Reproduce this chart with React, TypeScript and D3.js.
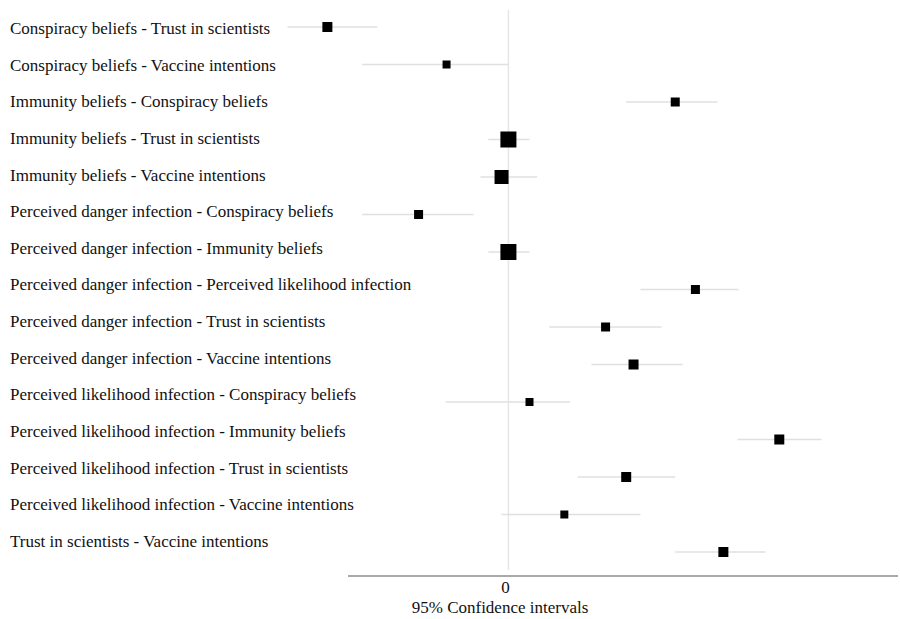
import React from "react";
import * as d3 from "d3";

const labels = [
  "Conspiracy beliefs - Trust in scientists",
  "Conspiracy beliefs - Vaccine intentions",
  "Immunity beliefs - Conspiracy beliefs",
  "Immunity beliefs - Trust in scientists",
  "Immunity beliefs - Vaccine intentions",
  "Perceived danger infection - Conspiracy beliefs",
  "Perceived danger infection - Immunity beliefs",
  "Perceived danger infection - Perceived likelihood infection",
  "Perceived danger infection - Trust in scientists",
  "Perceived danger infection - Vaccine intentions",
  "Perceived likelihood infection - Conspiracy beliefs",
  "Perceived likelihood infection - Immunity beliefs",
  "Perceived likelihood infection - Trust in scientists",
  "Perceived likelihood infection - Vaccine intentions",
  "Trust in scientists - Vaccine intentions",
];
const estimates = [-0.395, -0.135, 0.364, 0.0, -0.015, -0.196, 0.0, 0.408, 0.212, 0.273, 0.046, 0.591, 0.257, 0.122, 0.469];
const lower = [-0.482, -0.319, 0.257, -0.044, -0.061, -0.319, -0.044, 0.288, 0.089, 0.181, -0.137, 0.5, 0.151, -0.015, 0.364];
const upper = [-0.286, 0.0, 0.456, 0.046, 0.063, -0.076, 0.046, 0.502, 0.334, 0.38, 0.135, 0.683, 0.364, 0.288, 0.561];
const weights = [10, 8, 9, 16, 14, 9, 16, 9, 9, 10, 8, 10, 10, 8, 10];
const xTicks = [0];
const xTitle = "95% Confidence intervals";

export default function App() {
  const W = 900, H = 619;
  const x = d3.scaleLinear().domain([-0.35, 0.85]).range([348, 898]);
  const idx = labels.map((_, i) => i);
  const yMark = d3.scalePoint<number>().domain(idx).range([27, 552]);
  const yLab = d3.scalePoint<number>().domain(idx).range([28, 541]);
  const size = d3.scaleLinear().domain([0, 16]).range([0, 16]);
  const txt: React.CSSProperties = { fontFamily: "'Liberation Serif', 'Times New Roman', serif", fontSize: 17 };
  return (
    <svg width={W} height={H} style={{ position: "absolute", left: 0, top: 0, background: "#fff" }}>
      <line x1={x(0)} x2={x(0)} y1={10} y2={570} stroke="#e6e6e6" strokeWidth={1.5} />
      {idx.map((i) => (
        <g key={i}>
          <line x1={x(lower[i])} x2={x(upper[i])} y1={yMark(i)} y2={yMark(i)} stroke="#e0e0e0" strokeWidth={1.5} />
          <rect
            x={x(estimates[i]) - size(weights[i]) / 2}
            y={(yMark(i) as number) - size(weights[i]) / 2}
            width={size(weights[i])}
            height={size(weights[i])}
            fill="#000"
          />
          <text x={10} y={yLab(i)} dy="0.35em" style={txt} fill="#111">
            {labels[i]}
          </text>
        </g>
      ))}
      <line x1={x.range()[0]} x2={x.range()[1]} y1={576} y2={576} stroke="#8c8c8c" strokeWidth={1.5} />
      {xTicks.map((t) => (
        <text key={t} x={x(t) - 3} y={593} textAnchor="middle" style={txt} fill="#111">
          {t}
        </text>
      ))}
      <text x={500} y={613} textAnchor="middle" style={txt} fill="#111">
        {xTitle}
      </text>
    </svg>
  );
}
